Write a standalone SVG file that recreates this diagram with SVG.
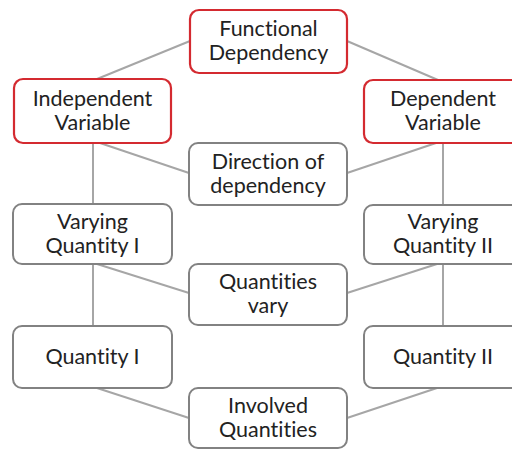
<svg xmlns="http://www.w3.org/2000/svg" width="512" height="450" viewBox="0 0 512 450">
<style>
.c{stroke:#a6a6a6;stroke-width:2;fill:none}
.r{fill:#fff;stroke:#d42a30;stroke-width:2.2}
.g{fill:#fff;stroke:#828282;stroke-width:2}
text{font-family:Lato,"Open Sans",sans-serif;font-size:21.5px;fill:#222;text-anchor:middle;font-variant-ligatures:none;font-feature-settings:"liga" 0,"dlig" 0}
</style>
<rect width="512" height="450" fill="#fff"/>
<g id="connectors">
<line class="c" x1="97" y1="79" x2="190" y2="41"/>
<line class="c" x1="347" y1="41" x2="438" y2="80"/>
<line class="c" x1="100" y1="143" x2="189" y2="173"/>
<line class="c" x1="436" y1="143" x2="347" y2="173"/>
<line class="c" x1="93" y1="143" x2="93" y2="204"/>
<line class="c" x1="443" y1="143" x2="443" y2="205"/>
<line class="c" x1="97" y1="264" x2="189" y2="293"/>
<line class="c" x1="437" y1="264" x2="347" y2="293"/>
<line class="c" x1="93" y1="264" x2="93" y2="326"/>
<line class="c" x1="443" y1="264" x2="443" y2="326"/>
<line class="c" x1="97" y1="388" x2="189" y2="418"/>
<line class="c" x1="437" y1="388" x2="347" y2="418"/>
</g>
<g id="functional-dependency">
<rect class="r" x="190" y="10" width="157" height="63" rx="9"/>
<text x="268.5" y="35.5">Functional</text>
<text x="268.5" y="59.5">Dependency</text>
</g>
<g id="independent-variable">
<rect class="r" x="14" y="79" width="157" height="64" rx="9"/>
<text x="92.5" y="105.5">Independent</text>
<text x="92.5" y="129.5">Variable</text>
</g>
<g id="dependent-variable">
<rect class="r" x="364" y="80" width="158" height="63" rx="9"/>
<text x="443" y="105.5">Dependent</text>
<text x="443" y="129.5">Variable</text>
</g>
<g id="direction-of-dependency">
<rect class="g" x="189" y="143" width="158" height="62" rx="9"/>
<text x="268" y="168.5">Direction of</text>
<text x="268" y="192.5">dependency</text>
</g>
<g id="varying-quantity-1">
<rect class="g" x="13" y="204" width="159" height="60" rx="9"/>
<text x="92.5" y="228.5">Varying</text>
<text x="92.5" y="252.5">Quantity I</text>
</g>
<g id="varying-quantity-2">
<rect class="g" x="364" y="205" width="158" height="59" rx="9"/>
<text x="443" y="228.5">Varying</text>
<text x="443" y="252.5">Quantity II</text>
</g>
<g id="quantities-vary">
<rect class="g" x="189" y="264" width="158" height="61" rx="9"/>
<text x="268" y="288.5">Quantities</text>
<text x="268" y="312.5">vary</text>
</g>
<g id="quantity-1">
<rect class="g" x="13" y="326" width="159" height="62" rx="9"/>
<text x="92.5" y="364">Quantity I</text>
</g>
<g id="quantity-2">
<rect class="g" x="364" y="326" width="158" height="62" rx="9"/>
<text x="443" y="364">Quantity II</text>
</g>
<g id="involved-quantities">
<rect class="g" x="189" y="388" width="158" height="60" rx="9"/>
<text x="268" y="412.5">Involved</text>
<text x="268" y="436.5">Quantities</text>
</g>
</svg>
